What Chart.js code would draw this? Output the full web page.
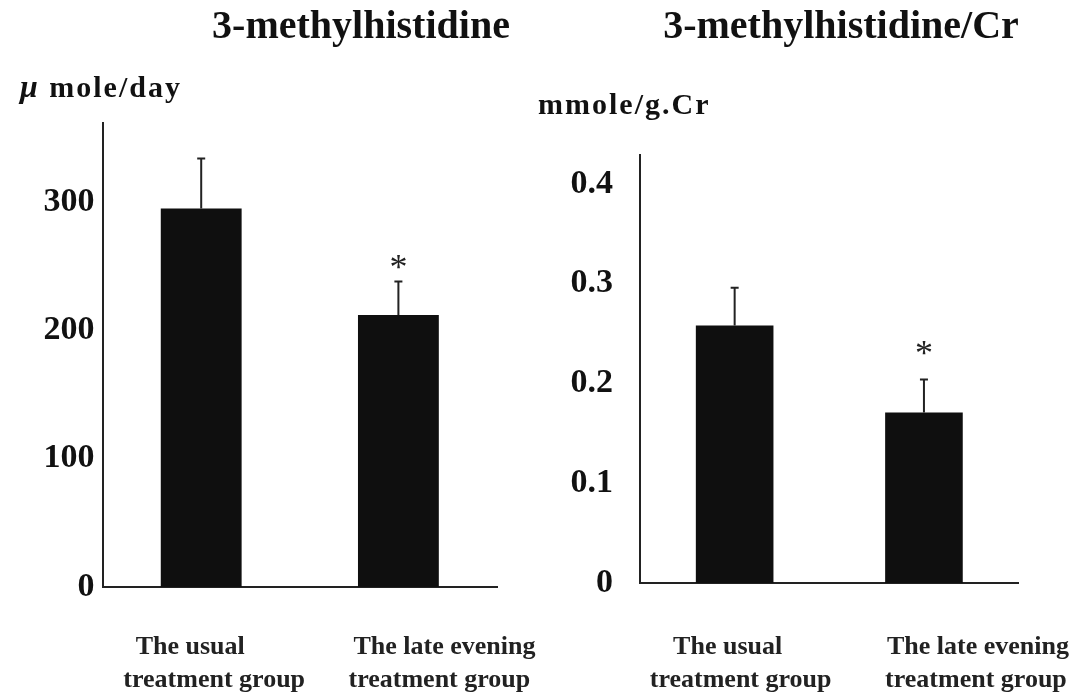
<!DOCTYPE html>
<html lang="en">
<head>
<meta charset="UTF-8">
<title>3-methylhistidine</title>
<script src="https://cdn.jsdelivr.net/npm/chart.js"></script>
<style>
  body { margin: 0; background: #fff; }
  #wrap { position: relative; width: 1076px; height: 698px; }
  canvas { position: absolute; top: 0; }
</style>
</head>
<body>
<div id="wrap">
  <canvas id="left" width="538" height="698" style="left:0"></canvas>
  <canvas id="right" width="538" height="698" style="left:538px"></canvas>
</div>
<script>
// data
const groups = [['The usual', 'treatment group'], ['The late evening', 'treatment group']];
const mhValues = [295, 212];        // μ mole/day
const mhErrors = [39, 26];
const mhTicks = [0, 100, 200, 300];
const crValues = [0.258, 0.171];    // mmole/g.Cr
const crErrors = [0.038, 0.033];
const crTicks = [0, 0.1, 0.2, 0.3, 0.4];
const significant = [false, true];

const serif = "'Liberation Serif', 'Times New Roman', serif";

// titles, unit labels, group labels, error bars and asterisks
const decor = {
  id: 'decor',
  afterDraw(chart, args, o) {
    const ctx = chart.ctx, xs = chart.scales.x, ys = chart.scales.y;
    ctx.save();

    chart.getDatasetMeta(0).data.forEach((bar, i) => {
      const top = ys.getPixelForValue(o.values[i] + o.errors[i]);
      ctx.strokeStyle = '#222';
      ctx.lineWidth = 2;
      ctx.beginPath();
      ctx.moveTo(bar.x, bar.y);
      ctx.lineTo(bar.x, top);
      ctx.moveTo(bar.x - 4, top);
      ctx.lineTo(bar.x + 4, top);
      ctx.stroke();

      if (significant[i]) {
        ctx.font = '36px ' + serif;
        ctx.fillStyle = '#222';
        ctx.textAlign = 'center';
        ctx.textBaseline = 'alphabetic';
        const m = ctx.measureText('*');
        const cy = top - o.astGap;
        ctx.fillText('*', bar.x, cy + (m.actualBoundingBoxAscent - m.actualBoundingBoxDescent) / 2);
      }
    });

    // group labels under the axis
    ctx.font = 'bold 26px ' + serif;
    ctx.fillStyle = '#222';
    ctx.textAlign = 'center';
    ctx.textBaseline = 'middle';
    groups.forEach((lines, i) => {
      const cx = xs.getPixelForValue(i);
      lines.forEach((t, k) => {
        ctx.fillText(t, cx + o.labelDx[i][k], 647 + k * 33);
      });
    });

    // chart title
    ctx.font = 'bold 40px ' + serif;
    ctx.fillStyle = '#111';
    ctx.textAlign = 'center';
    ctx.textBaseline = 'alphabetic';
    ctx.fillText(o.title, o.titleX, 38);

    // unit label (a leading μ is set in italic)
    ctx.textAlign = 'left';
    if ('letterSpacing' in ctx) ctx.letterSpacing = '2px';
    let ux = o.unitX, rest = o.unit;
    if (rest.startsWith('μ')) {
      ctx.font = 'italic bold 32px ' + serif;
      ctx.fillText('μ', ux, o.unitY);
      ux += ctx.measureText('μ').width;
      rest = rest.slice(1);
    }
    ctx.font = 'bold 30px ' + serif;
    ctx.fillText(rest, ux, o.unitY);

    ctx.restore();
  }
};

function makeChart(id, values, errors, ticks, max, deco, layoutPad, axisW, axisH, tickPad) {
  return new Chart(document.getElementById(id), {
    type: 'bar',
    data: {
      labels: groups.map(g => g.join(' ')),
      datasets: [{
        data: values,
        backgroundColor: '#0f0f0f',
        borderWidth: 0,
        barPercentage: 0.41,
        categoryPercentage: 1.0
      }]
    },
    options: {
      responsive: false,
      animation: false,
      layout: { padding: layoutPad },
      plugins: {
        legend: { display: false },
        tooltip: { enabled: false },
        decor: Object.assign({ values: values, errors: errors }, deco)
      },
      scales: {
        x: {
          grid: { display: false },
          border: { display: true, color: '#222', width: 2 },
          ticks: { display: false },
          afterFit: s => { s.height = axisH; }
        },
        y: {
          min: 0,
          max: max,
          grid: { display: false },
          border: { display: true, color: '#222', width: 2 },
          ticks: {
            color: '#111',
            padding: tickPad,
            font: { family: serif, size: 34, weight: 'bold' },
            callback: v => v === 0 ? '0' : (Number.isInteger(v) ? String(v) : v.toFixed(1))
          },
          afterBuildTicks: s => { s.ticks = ticks.map(v => ({ value: v })); },
          afterFit: s => { s.width = axisW; }
        }
      }
    },
    plugins: [decor]
  });
}

makeChart('left', mhValues, mhErrors, mhTicks, 361.6, {
  title: '3-methylhistidine', titleX: 361,
  unit: 'μ mole/day', unitX: 20, unitY: 97,
  astGap: 20,
  labelDx: [[-11, 13], [46, 41]]
}, { left: 0, right: 41, top: 123, bottom: 0 }, 102.6, 111, 0);

makeChart('right', crValues, crErrors, crTicks, 0.429, {
  title: '3-methylhistidine/Cr', titleX: 303,
  unit: 'mmole/g.Cr', unitX: 0, unitY: 114,
  astGap: 31,
  labelDx: [[-7, 6], [54, 52]]
}, { left: 0, right: 57.4, top: 155, bottom: 0 }, 102, 115, 19);
</script>
</body>
</html>
